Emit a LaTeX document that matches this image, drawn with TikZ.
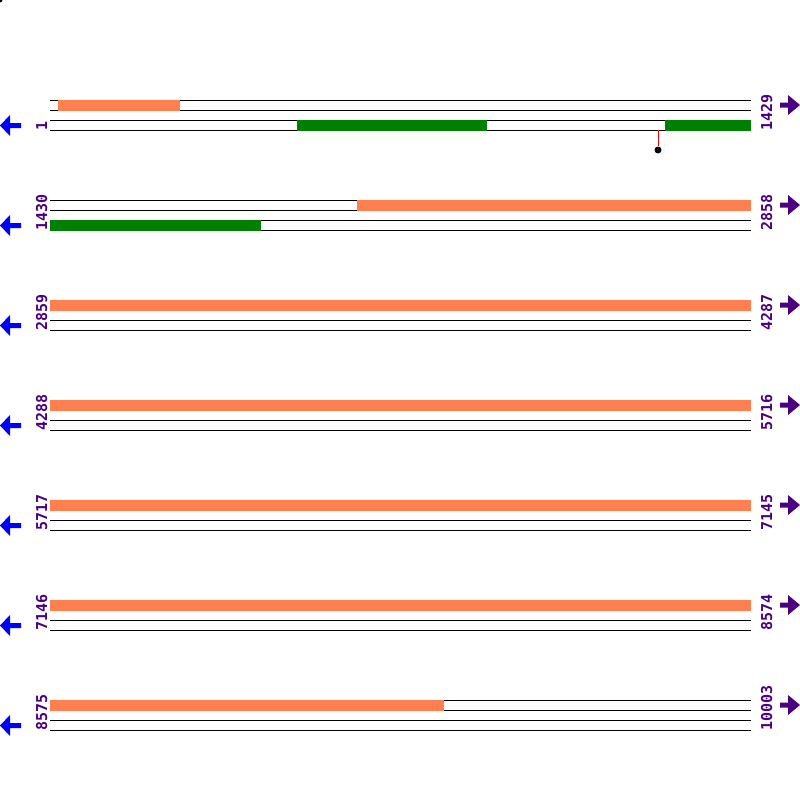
\documentclass[tikz,border=0pt]{standalone}
\usepackage{fontspec}
\newfontfamily\seqfont{DejaVu Sans Mono}
\definecolor{cdsorange}{HTML}{FF7F50}
\definecolor{genegreen}{HTML}{008000}
\definecolor{posviolet}{HTML}{4B0082}
\definecolor{revblue}{HTML}{0000FF}

\tikzset{
  trackline/.style={black, line width=1pt},
  cdsbar/.style={fill=cdsorange},
  genebar/.style={fill=genegreen},
  poslabel/.style={text=posviolet, rotate=90, anchor=base west, inner sep=0pt,
                   font=\seqfont\bfseries\fontsize{15}{15}\selectfont},
}

\begin{document}
\begin{tikzpicture}[x=1pt,y=-1pt]
\useasboundingbox (0,0) rectangle (800,800);
\fill (0,0) circle (2.5);

% rows of the map
\foreach \r/\from/\to/\os/\oe in {0/1/1429/58/180, 1/1430/2858/357/751,
    2/2859/4287/50/751, 3/4288/5716/50/751, 4/5717/7145/50/751,
    5/7146/8574/50/751, 6/8575/10003/50/444}{
  \pgfmathsetmacro\base{100+100*\r}
  \foreach \k in {0,1,2,3}
    \draw[trackline] (50,{\base+10*\k}) -- (751,{\base+10*\k});
  \fill[cdsbar] (\os,\base) rectangle (\oe,{\base+11});
  \node[poslabel] (start\r) at (47,{\base+31}) {\from};
  \node[poslabel] (end\r) at (772,{\base+31}) {\to};
  % strand arrows
  \fill[revblue] (0,{\base+25.5}) -- (10,{\base+15}) -- (10,{\base+23}) -- (21,{\base+23})
    -- (21,{\base+28}) -- (10,{\base+28}) -- (10,{\base+36}) -- cycle;
  \fill[posviolet] (800,{\base+5}) -- (788,{\base-5}) -- (788,{\base+2.5}) -- (780,{\base+2.5})
    -- (780,{\base+7.5}) -- (788,{\base+7.5}) -- (788,{\base+15}) -- cycle;
}

% green features
\fill[genebar] (297,120) rectangle (487,131);
\fill[genebar] (665,120) rectangle (751,131);
\fill[genebar] (50,220) rectangle (261,231);

% marker
\coordinate (stem) at (658,130);
\node[circle, fill=black, inner sep=0pt, minimum size=7pt] (pin) at (658,150) {};
\draw[red, line width=1pt] (stem) -- (pin);
\end{tikzpicture}
\end{document}
